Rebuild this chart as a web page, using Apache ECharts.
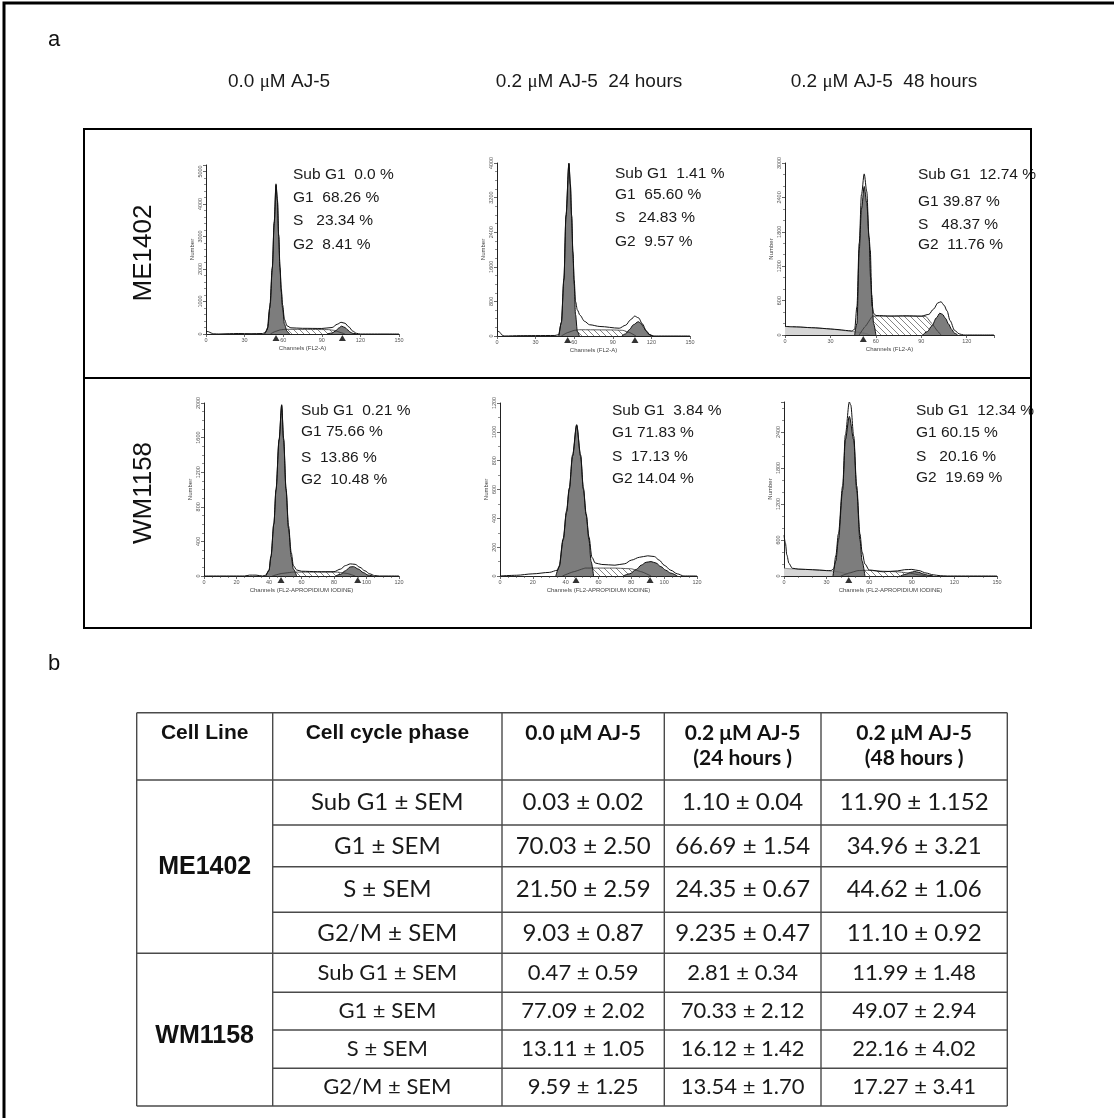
<!DOCTYPE html>
<html><head><meta charset="utf-8">
<script src="https://cdn.jsdelivr.net/npm/echarts@6/dist/echarts.min.js"></script>
<style>html,body{margin:0;padding:0;background:#fff}#c{width:1114px;height:1118px}</style>
</head><body><div id="c"></div>
<script>
// ---------------- DATA ----------------
const columnTitles = [['0.0 ', 'M AJ-5'], ['0.2 ', 'M AJ-5  24 hours'], ['0.2 ', 'M AJ-5  48 hours']];
const cellLineLabels = ['ME1402', 'WM1158'];

// ME1402, 0.0 uM
const me0Total = [[0,90],[2,70],[4,30],[6,5],[10,0],[18,10],[25,15],[35,10],[44,15],[46,40],[48,200],[50,950],[51.5,2050],[53,3450],[54.4,4620],[55.5,4150],[56.5,3050],[57.5,2080],[58.5,1400],[59.5,900],[61,450],[63,250],[66,190],[75,175],[90,170],[98,200],[102,300],[105,360],[108,330],[111,220],[114,90],[117,20],[120,0],[150,0]];
const me0G1 = [[45.5,0],[47.5,120],[49.5,800],[51.5,2000],[53,3400],[54.4,4580],[55.5,4100],[56.5,3000],[57.5,2000],[58.5,1300],[59.5,800],[61,300],[63,80],[65,0]];
const me0S = [[50,0],[54,80],[58,130],[62,145],[80,140],[95,135],[100,110],[105,40],[108,0]];
const me0G2 = [[94,0],[98,30],[101,100],[103,180],[105.4,240],[108,200],[110,130],[112,60],[114,20],[117,0]];
const me0Markers = [54.4, 106];
const me0Text = ['Sub G1  0.0 %', 'G1  68.26 %', 'S   23.34 %', 'G2  8.41 %'];

// ME1402, 0.2 uM 24 h
const me24Total = [[0,140],[2,90],[4,20],[6,0],[18,8],[30,10],[45,12],[48,30],[50,320],[52,1330],[53.6,2790],[55.9,4000],[57,3530],[58,2790],[59,1950],[60,1300],[61,800],[62.5,600],[64.5,480],[68,340],[72,260],[80,220],[95,180],[100,250],[104,380],[107,460],[110,420],[113,280],[116,120],[119,20],[122,0],[150,0]];
const me24G1 = [[48,0],[50,300],[52,1300],[53.6,2760],[55.9,3980],[57,3500],[58,2760],[59,1900],[60,1200],[61,500],[62.5,100],[64,0]];
const me24S = [[50,0],[55,80],[60,130],[64,145],[90,140],[98,130],[103,80],[108,0]];
const me24G2 = [[97,0],[100,50],[103,150],[106,260],[109.8,330],[112,290],[114,200],[116,110],[118,40],[121,0]];
const me24Markers = [54.9, 107.2];
const me24Text = ['Sub G1  1.41 %', 'G1  65.60 %', 'S   24.83 %', 'G2  9.57 %'];

// ME1402, 0.2 uM 48 h
const me48Total = [[0,150],[5,145],[10,140],[15,130],[20,125],[25,115],[30,105],[35,95],[40,80],[44,70],[46,100],[47.5,500],[49,1600],[50.5,2450],[52.3,2810],[54,2500],[55.5,1700],[56.5,1000],[57.5,500],[58.5,380],[60,340],[70,330],[80,335],[90,330],[95,360],[98,450],[101,560],[103,580],[105,520],[107,420],[109,250],[112,80],[115,20],[118,0],[138,0]];
const me48Sub = [[0,150],[5,140],[10,135],[15,130],[20,125],[25,115],[30,105],[35,90],[40,75],[45,60],[48,50],[52,30],[56,0]];
const me48G1 = [[46,0],[47.5,200],[49,1480],[50.5,2200],[52.3,2590],[54,2300],[55.5,1700],[56.3,1480],[57.3,700],[58.5,200],[60,0]];
const me48S = [[49,0],[53,150],[57.8,330],[75,330],[93,325],[97,200],[101,60],[103,0]];
const me48G2 = [[91,0],[94,60],[97,160],[100,300],[102.2,380],[104,360],[106,290],[108,190],[110,100],[112,30],[114,0]];
const me48Markers = [51.7];
const me48Text = ['Sub G1  12.74 %', 'G1 39.87 %', 'S   48.37 %', 'G2  11.76 %'];

// WM1158, 0.0 uM
const wm0Total = [[0,0],[25,0],[28,10],[32,10],[36,0],[38,10],[40,70],[41.2,230],[43,610],[44.3,1000],[46.2,1580],[47.8,1980],[49,1590],[50.5,1010],[52,580],[53.7,270],[55,120],[57,70],[60,55],[70,50],[80,50],[84,80],[87,120],[90,140],[93,135],[96,100],[99,60],[102,25],[105,5],[108,0],[120,0]];
const wm0G1 = [[38,0],[40,60],[41.2,220],[43,600],[44.3,990],[46.2,1570],[47.8,1970],[49,1570],[50.5,990],[52,550],[53.7,220],[55,80],[57,0]];
const wm0S = [[42,0],[48,30],[55,45],[70,45],[82,45],[88,30],[93,0]];
const wm0G2 = [[81,0],[84,20],[87,60],[90,105],[92,108],[95,80],[98,40],[101,10],[104,0]];
const wm0Markers = [47.4, 94.6];
const wm0Text = ['Sub G1  0.21 %', 'G1 75.66 %', 'S  13.86 %', 'G2  10.48 %'];

// WM1158, 0.2 uM 24 h
const wm24Total = [[0,0],[10,5],[20,15],[30,25],[35,40],[36,70],[38.5,260],[40.5,450],[42.2,610],[44.2,840],[46.7,1050],[49.1,840],[50.8,610],[52.5,430],[54.2,270],[56,130],[58,90],[62,80],[70,75],[76,85],[80,110],[85,130],[90,140],[94,135],[97,110],[100,75],[104,40],[108,15],[112,0],[120,0]];
const wm24G1 = [[34,0],[36,60],[38.5,250],[40.5,440],[42.2,600],[44.2,830],[46.7,1045],[49.1,830],[50.8,600],[52.5,420],[54.2,250],[55.5,100],[57,0]];
const wm24S = [[38,0],[45,30],[52,55],[70,55],[80,50],[86,30],[92,0]];
const wm24G2 = [[75,0],[79,15],[83,45],[86,75],[89,95],[92,100],[95,90],[98,65],[101,40],[104,20],[108,0]];
const wm24Markers = [46.3, 91.4];
const wm24Text = ['Sub G1  3.84 %', 'G1 71.83 %', 'S  17.13 %', 'G2 14.04 %'];

// WM1158, 0.2 uM 48 h
const wm48Total = [[0,680],[1,550],[2,350],[3.5,210],[5.8,130],[10,115],[20,105],[30,90],[33,90],[35,120],[36.5,340],[38.3,700],[41.3,1500],[43.2,2350],[46,2900],[47,2850],[49.1,2330],[51.2,1500],[53.5,700],[55,400],[57,200],[60,100],[70,70],[80,85],[85,105],[90,110],[95,90],[100,50],[105,20],[110,5],[115,0],[150,0]];
const wm48Sub = [[0,130],[5,120],[10,115],[15,110],[20,105],[25,100],[30,90],[35,80],[38,70],[42,50],[46,0]];
const wm48G1 = [[34.5,0],[36.5,250],[38.3,600],[41.3,1430],[43.2,2270],[46,2660],[49.1,2270],[51.2,1430],[53.5,600],[55,250],[57,0]];
const wm48S = [[40,0],[46,50],[52,90],[58,95],[70,80],[80,70],[88,50],[95,20],[100,0]];
const wm48G2 = [[82,0],[86,30],[89,60],[92,75],[95,60],[98,35],[101,15],[105,0]];
const wm48Markers = [45.6];
const wm48Text = ['Sub G1  12.34 %', 'G1 60.15 %', 'S   20.16 %', 'G2  19.69 %'];

// axis ranges / ticks
const xMaxes = [150, 150, 138, 120, 120, 150];
const xIntervals = [30, 30, 30, 20, 20, 30];
const yMaxes = [5200, 4000, 3000, 2000, 1200, 2900];
const yIntervals = [1000, 800, 600, 400, 200, 600];
const xNames = ['Channels (FL2-A)', 'Channels (FL2-A)', 'Channels (FL2-A)',
  'Channels (FL2-APROPIDIUM IODINE)', 'Channels (FL2-APROPIDIUM IODINE)', 'Channels (FL2-APROPIDIUM IODINE)'];

// table
const tableHeaders = ['Cell Line', 'Cell cycle phase', '0.0 μM AJ-5', '0.2 μM AJ-5\n(24 hours )', '0.2 μM AJ-5\n(48 hours )'];
const tablePhases = ['Sub G1 ± SEM', 'G1 ± SEM', 'S ± SEM', 'G2/M ± SEM'];
const me1402Table = [
  ['0.03 ± 0.02', '1.10 ± 0.04', '11.90 ± 1.152'],
  ['70.03 ± 2.50', '66.69 ± 1.54', '34.96 ± 3.21'],
  ['21.50 ± 2.59', '24.35 ± 0.67', '44.62 ± 1.06'],
  ['9.03 ± 0.87', '9.235 ± 0.47', '11.10 ± 0.92']
];
const wm1158Table = [
  ['0.47 ± 0.59', '2.81 ± 0.34', '11.99 ± 1.48'],
  ['77.09 ± 2.02', '70.33 ± 2.12', '49.07 ± 2.94'],
  ['13.11 ± 1.05', '16.12 ± 1.42', '22.16 ± 4.02'],
  ['9.59 ± 1.25', '13.54 ± 1.70', '17.27 ± 3.41']
];

// ---------------- LAYOUT ----------------
const panelData = [
  {total: me0Total, g1: me0G1, s: me0S, g2: me0G2, sub: null, markers: me0Markers, text: me0Text},
  {total: me24Total, g1: me24G1, s: me24S, g2: me24G2, sub: null, markers: me24Markers, text: me24Text},
  {total: me48Total, g1: me48G1, s: me48S, g2: me48G2, sub: me48Sub, markers: me48Markers, text: me48Text},
  {total: wm0Total, g1: wm0G1, s: wm0S, g2: wm0G2, sub: null, markers: wm0Markers, text: wm0Text},
  {total: wm24Total, g1: wm24G1, s: wm24S, g2: wm24G2, sub: null, markers: wm24Markers, text: wm24Text},
  {total: wm48Total, g1: wm48G1, s: wm48S, g2: wm48G2, sub: wm48Sub, markers: wm48Markers, text: wm48Text}
];
const panelLayout = [
  {left: 206, top: 165, width: 193, height: 169, tx: 293, ty: [175, 198, 221, 245], xMinor: 0, yMinor: 5},
  {left: 497, top: 163, width: 193, height: 173, tx: 615, ty: [174, 195, 218, 242], xMinor: 0, yMinor: 4},
  {left: 785, top: 163, width: 209, height: 172, tx: 918, ty: [175, 202, 225, 245], xMinor: 0, yMinor: 3},
  {left: 204, top: 403, width: 195, height: 173, tx: 301, ty: [411, 432, 458, 480], xMinor: 4, yMinor: 4},
  {left: 500, top: 403, width: 197, height: 173, tx: 612, ty: [411, 433, 457, 479], xMinor: 4, yMinor: 2},
  {left: 784, top: 402, width: 213, height: 174, tx: 916, ty: [411, 433, 457, 478], xMinor: 3, yMinor: 3}
];

// hatch pattern
const hc = document.createElement('canvas');
hc.width = 6; hc.height = 6;
const hctx = hc.getContext('2d');
hctx.fillStyle = '#ffffff'; hctx.fillRect(0, 0, 6, 6);
hctx.strokeStyle = '#666666'; hctx.lineWidth = 0.8;
hctx.beginPath();
hctx.moveTo(0, 0); hctx.lineTo(6, 6);
hctx.moveTo(-3, 3); hctx.lineTo(3, 9);
hctx.moveTo(3, -3); hctx.lineTo(9, 3);
hctx.stroke();
const hatch = {image: hc, repeat: 'repeat'};

const SANS = '"Liberation Sans", Arial, sans-serif';
const CAL = 'Lato, "Open Sans", sans-serif';

const grids = [], xAxes = [], yAxes = [], series = [], graphics = [];

panelData.forEach((p, i) => {
  const L = panelLayout[i];
  grids.push({left: L.left, top: L.top, width: L.width, height: L.height, containLabel: false});
  xAxes.push({
    type: 'value', gridIndex: i, min: 0, max: xMaxes[i], interval: xIntervals[i],
    name: xNames[i], nameLocation: 'middle', nameGap: 11,
    nameTextStyle: {fontSize: 6, color: '#444', fontFamily: SANS},
    axisLine: {onZero: false, lineStyle: {color: '#222', width: 1}},
    axisTick: {show: true, length: 3, lineStyle: {color: '#444', width: 0.8}},
    minorTick: {show: L.xMinor > 0, splitNumber: L.xMinor || 5, length: 2, lineStyle: {color: '#444', width: 0.6}},
    splitLine: {show: false},
    axisLabel: {fontSize: 5.5, color: '#555', margin: 3, fontFamily: SANS,
      formatter: v => (Math.round(v) % xIntervals[i] === 0 ? String(v) : '')}
  });
  yAxes.push({
    type: 'value', gridIndex: i, min: 0, max: yMaxes[i], interval: yIntervals[i],
    name: 'Number', nameLocation: 'middle', nameGap: 11, nameRotate: 90,
    nameTextStyle: {fontSize: 6, color: '#444', fontFamily: SANS},
    axisLine: {show: true, lineStyle: {color: '#222', width: 1}},
    axisTick: {show: true, length: 3, lineStyle: {color: '#444', width: 0.8}},
    minorTick: {show: true, splitNumber: L.yMinor, length: 2, lineStyle: {color: '#444', width: 0.6}},
    splitLine: {show: false},
    axisLabel: {fontSize: 5.5, color: '#555', margin: 3, rotate: 90, fontFamily: SANS,
      formatter: v => (Math.round(v) % yIntervals[i] === 0 ? String(v) : '')}
  });
  const base = {xAxisIndex: i, yAxisIndex: i, type: 'line', showSymbol: false, symbol: 'none',
    smooth: 0.3, smoothMonotone: 'x', silent: true};
  if (p.sub) {
    series.push(Object.assign({}, base, {data: p.sub, lineStyle: {color: '#666', width: 0.7},
      areaStyle: {color: '#d6d6d6', opacity: 1}}));
  }
  series.push(Object.assign({}, base, {data: p.s, smooth: 0.1, lineStyle: {color: '#333', width: 0.8},
    areaStyle: {color: hatch, opacity: 1}}));
  series.push(Object.assign({}, base, {data: p.g1, lineStyle: {color: '#111', width: 1},
    areaStyle: {color: '#7d7d7d', opacity: 1}}));
  series.push(Object.assign({}, base, {data: p.g2, lineStyle: {color: '#111', width: 1},
    areaStyle: {color: '#7d7d7d', opacity: 1}}));
  series.push(Object.assign({}, base, {data: p.total, lineStyle: {color: '#111', width: 1}}));
  series.push({type: 'scatter', xAxisIndex: i, yAxisIndex: i, symbol: 'triangle', symbolSize: [7, 6],
    symbolOffset: [0, 4], clip: false, silent: true, itemStyle: {color: '#000'},
    data: p.markers.map(m => [m, 0])});
  p.text.forEach((t, k) => {
    graphics.push({type: 'text', x: L.tx, y: L.ty[k], style: {text: t, fontSize: 15.5, fontFamily: SANS,
      fill: '#1a1a1a', align: 'left', verticalAlign: 'middle'}});
  });
});

// frame & labels of panel a
graphics.push({type: 'rect', shape: {x: 4, y: 3, width: 1300, height: 1300}, style: {fill: 'none', stroke: '#000', lineWidth: 3}});
graphics.push({type: 'text', x: 48, y: 40, style: {text: 'a', fontSize: 22, fontFamily: SANS, fill: '#111', verticalAlign: 'middle'}});
graphics.push({type: 'text', x: 48, y: 664, style: {text: 'b', fontSize: 22, fontFamily: SANS, fill: '#111', verticalAlign: 'middle'}});
const titleX = [279, 589, 884];
columnTitles.forEach((t, i) => {
  graphics.push({type: 'text', x: titleX[i], y: 82, style: {
    text: '{a|' + t[0] + '}{m|μ}{a|' + t[1] + '}', align: 'center', verticalAlign: 'middle',
    rich: {a: {fontSize: 19, fontFamily: SANS, fill: '#1a1a1a'},
           m: {fontSize: 19, fontFamily: '"Liberation Serif", "Times New Roman", serif', fill: '#1a1a1a'}}}});
});
graphics.push({type: 'rect', shape: {x: 84, y: 129, width: 947, height: 499}, style: {fill: 'none', stroke: '#000', lineWidth: 2}});
graphics.push({type: 'line', shape: {x1: 84, y1: 378, x2: 1031, y2: 378}, style: {stroke: '#000', lineWidth: 2}});
const rowLabelY = [253, 493];
cellLineLabels.forEach((t, i) => {
  graphics.push({type: 'text', x: 144, y: rowLabelY[i], rotation: Math.PI / 2, style: {text: t, fontSize: 26,
    fontFamily: SANS, fill: '#111', align: 'center', verticalAlign: 'middle'}});
});

// table b
const tCols = [136.7, 272.7, 502, 664.3, 821, 1007.3];
const tRows = [712.7, 780, 825, 866.7, 912.3, 953.3, 992.3, 1030, 1068.3, 1106];
const lineStyle = {stroke: '#4a4a4a', lineWidth: 1.4};
tCols.forEach(x => graphics.push({type: 'line', shape: {x1: x, y1: tRows[0], x2: x, y2: tRows[9]}, style: lineStyle}));
tRows.forEach((y, r) => {
  const full = (r === 0 || r === 1 || r === 5 || r === 9);
  graphics.push({type: 'line', shape: {x1: full ? tCols[0] : tCols[1], y1: y, x2: tCols[5], y2: y}, style: lineStyle});
});
const colC = tCols.slice(0, 5).map((x, i) => (x + tCols[i + 1]) / 2);
tableHeaders.forEach((h, i) => {
  const isArial = i < 2;
  graphics.push({type: 'text', x: colC[i], y: 721, style: {text: h, align: 'center', verticalAlign: 'top',
    fontSize: 21, fontWeight: 'bold', fontFamily: isArial ? SANS : CAL,
    lineHeight: 25, fill: '#111'}});
});
const blocks = [me1402Table, wm1158Table];
const blockFont = [24, 22];
blocks.forEach((tbl, b) => {
  const r0 = 1 + b * 4;
  const yMid = (tRows[r0] + tRows[r0 + 4]) / 2 + (b === 1 ? 6 : 0);
  graphics.push({type: 'text', x: colC[0], y: yMid, style: {text: cellLineLabels[b], align: 'center',
    verticalAlign: 'middle', fontSize: 25, fontWeight: 'bold', fontFamily: SANS, fill: '#111'}});
  tablePhases.forEach((ph, k) => {
    const yc = (tRows[r0 + k] + tRows[r0 + k + 1]) / 2;
    graphics.push({type: 'text', x: colC[1], y: yc, style: {text: ph, align: 'center', verticalAlign: 'middle',
      fontSize: blockFont[b], fontFamily: CAL, fill: '#1a1a1a'}});
    tbl[k].forEach((v, c) => {
      graphics.push({type: 'text', x: colC[2 + c], y: yc, style: {text: v, align: 'center', verticalAlign: 'middle',
        fontSize: blockFont[b], fontFamily: CAL, fill: '#1a1a1a'}});
    });
  });
});

const chart = echarts.init(document.getElementById('c'), null, {renderer: 'canvas', width: 1114, height: 1118});
chart.setOption({
  animation: false,
  backgroundColor: '#ffffff',
  grid: grids, xAxis: xAxes, yAxis: yAxes, series: series,
  graphic: {elements: graphics}
});
</script></body></html>
